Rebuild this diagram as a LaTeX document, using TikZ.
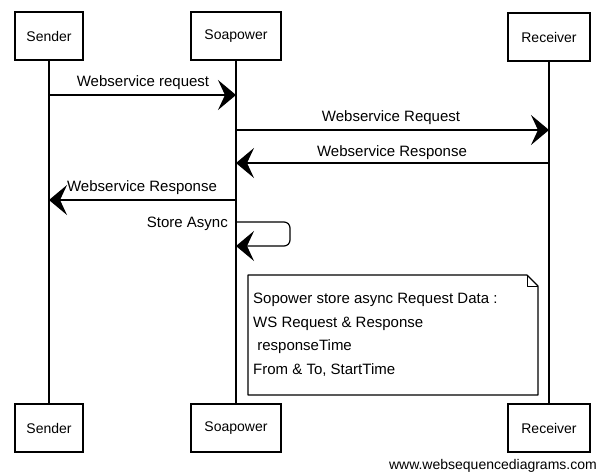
\documentclass[tikz,border=0pt]{standalone}
\usepackage{fontspec}
\setmainfont{Liberation Sans}
\usetikzlibrary{arrows.meta}
\begin{document}
\begin{tikzpicture}[x=1pt,y=-1pt,
  actor/.style={draw,line width=1.1pt,minimum height=48pt,inner sep=0pt,font=\fontsize{14}{16}\selectfont},
  life/.style={line width=1.1pt},
  msg/.style={line width=1.2pt,-{Stealth[length=18pt,width=30pt,inset=7pt]}},
  lbl/.style={font=\fontsize{15}{17}\selectfont,inner sep=0pt},
  notebox/.style={draw,line width=1.1pt,line join=round},
]
\useasboundingbox (0,0) rectangle (600,475);
\fill[white] (0,0) rectangle (600,475);
% actors top
\node[actor,minimum width=68pt] (sT) at (49,36) {Sender};
\node[actor,minimum width=90pt] (pT) at (236,36) {Soapower};
\node[actor,minimum width=82pt] (rT) at (549,37) {Receiver};
% actors bottom
\node[actor,minimum width=68pt] (sB) at (49,428) {Sender};
\node[actor,minimum width=90pt] (pB) at (236,428) {Soapower};
\node[actor,minimum width=82pt] (rB) at (549,428) {Receiver};
% lifelines
\draw[life] (sT.south) -- (sB.north);
\draw[life] (pT.south) -- (pB.north);
\draw[life] (rT.south) -- (rB.north);
% message end points
\coordinate (m1s) at (49,95);  \coordinate (m1e) at (236,95);
\coordinate (m2s) at (236,130); \coordinate (m2e) at (549,130);
\coordinate (m3s) at (549,163); \coordinate (m3e) at (236,163);
\coordinate (m4s) at (236,200); \coordinate (m4e) at (49,200);
\coordinate (m5s) at (236,222); \coordinate (m5a) at (290,222);
\coordinate (m5b) at (290,246); \coordinate (m5e) at (236,246);
% messages
\draw[msg] (m1s) -- (m1e);
\node[lbl] (l1) at (143,83) {Webservice request};
\draw[msg] (m2s) -- (m2e);
\node[lbl] (l2) at (391,118) {Webservice Request};
\draw[msg] (m3s) -- (m3e);
\node[lbl] (l3) at (392,153) {Webservice Response};
\draw[msg] (m4s) -- (m4e);
\node[lbl] (l4) at (142,188) {Webservice Response};
\draw[msg,rounded corners=6pt] (m5s) -- (m5a) -- (m5b) -- (m5e);
\node[lbl,anchor=east] (l5) at (228,224) {Store Async};
% note
\coordinate (nTL) at (248,275);
\coordinate (nF1) at (527,275);
\coordinate (nF2) at (538,286);
\coordinate (nFC) at (527,286);
\coordinate (nBR) at (538,395);
\coordinate (nBL) at (248,395);
\draw[notebox] (nTL) -- (nF1) -- (nF2) -- (nBR) -- (nBL) -- cycle;
\draw[notebox,line width=0.8pt] (nF1) -- (nFC) -- (nF2);
\node[lbl,anchor=north west,align=left,font=\fontsize{15}{23.5}\selectfont] (note) at (253,293)
  {Sopower store async Request Data :\\
   WS Request \& Response\\
   \ responseTime\\
   From \& To, StartTime};
% watermark
\node[anchor=east,inner sep=0pt,font=\fontsize{14}{16}\selectfont] (wm) at (597,466) {www.websequencediagrams.com};
\end{tikzpicture}
\end{document}
